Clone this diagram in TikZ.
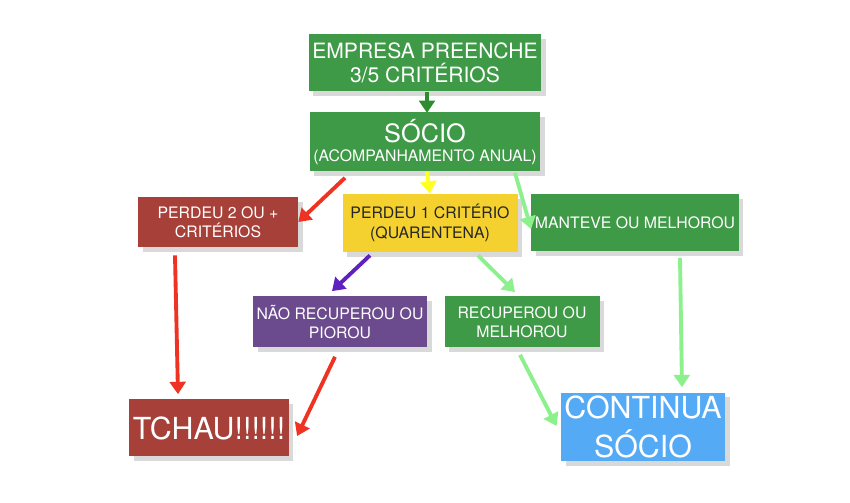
\documentclass[tikz,border=0pt]{standalone}
\usepackage{fontspec}
\setmainfont{TeX Gyre Heros}
\usetikzlibrary{arrows.meta,shadows,positioning}
\definecolor{verde}{HTML}{3F9A47}
\definecolor{vermelho}{HTML}{A8403A}
\definecolor{amarelo}{HTML}{F5D130}
\definecolor{roxo}{HTML}{6C4A8E}
\definecolor{azul}{HTML}{55AAF5}
\definecolor{setaverde}{HTML}{8CF08C}
\definecolor{setavermelha}{HTML}{EE3322}
\definecolor{setaroxa}{HTML}{6020C0}
\definecolor{setaamarela}{HTML}{FFFF20}
\definecolor{setaescura}{HTML}{2E8B2E}
\begin{document}
\begin{tikzpicture}[x=0.02cm,y=-0.02cm,
	caixa/.style={align=center,text=white,drop shadow={opacity=0.3},inner sep=2pt},
	seta/.style={line width=2.2pt,-{Triangle[length=7pt,width=9pt]}}]
	\useasboundingbox (0,0) rectangle (850,503);
	
	% Caixas
	\node[caixa,fill=verde,minimum width=230*0.02cm,minimum height=57*0.02cm,font=\large] (empresa) at (425,63) {EMPRESA PREENCHE\\3/5 CRITÉRIOS};
	\node[caixa,fill=verde,minimum width=230*0.02cm,minimum height=59*0.02cm] (socio) at (425,142) {{\Large SÓCIO}\\[-1pt]{\small (ACOMPANHAMENTO ANUAL)}};
	\node[caixa,fill=vermelho,minimum width=160*0.02cm,minimum height=50*0.02cm,font=\small] (perdeu2) at (218,222) {PERDEU 2 OU +\\CRITÉRIOS};
	\node[caixa,fill=amarelo,text=black!85,minimum width=175*0.02cm,minimum height=58*0.02cm,font=\small] (perdeu1) at (430,223) {PERDEU 1 CRITÉRIO\\(QUARENTENA)};
	\node[caixa,fill=verde,minimum width=174*0.02cm,minimum height=57*0.02cm,font=\small] (manteve) at (635,223) {MANTEVE OU MELHOROU};
	\node[caixa,fill=roxo,minimum width=160*0.02cm,minimum height=51*0.02cm,font=\small] (naorec) at (340,322) {NÃO RECUPEROU OU\\PIOROU};
	\node[caixa,fill=verde,minimum width=155*0.02cm,minimum height=51*0.02cm,font=\small] (recup) at (522,322) {RECUPEROU OU\\MELHOROU};
	\node[caixa,fill=vermelho,minimum width=142*0.02cm,minimum height=57*0.02cm,font=\LARGE] (tchau) at (209,428) {TCHAU!!!!!!};
	\node[caixa,fill=azul,minimum width=142*0.02cm,minimum height=60*0.02cm,font=\LARGE] (continua) at (643,427) {CONTINUA\\SÓCIO};
	
	% Setas
	\draw[seta,setaescura] (empresa.south) ++(2,0) -- ++(0,21);
	\draw[seta,setaamarela] (socio.south) ++(2,0) -- (perdeu1.north);
	\draw[seta,setavermelha] ([xshift=-80*0.02cm,yshift=-6*0.02cm]socio.south) -- (perdeu2.east);
	\draw[seta,setaverde] ([xshift=90*0.02cm,yshift=-1*0.02cm]socio.south) -- ([yshift=-6*0.02cm]manteve.west);
	\draw[seta,setavermelha] ([xshift=-43*0.02cm,yshift=-8*0.02cm]perdeu2.south) -- ([xshift=-31*0.02cm,yshift=5*0.02cm]tchau.north);
	\draw[seta,setaroxa] ([xshift=-60*0.02cm,yshift=-3*0.02cm]perdeu1.south) -- ([xshift=-8*0.02cm,yshift=5*0.02cm]naorec.north);
	\draw[seta,setaverde] ([xshift=48*0.02cm,yshift=-3*0.02cm]perdeu1.south) -- ([xshift=-7*0.02cm,yshift=4*0.02cm]recup.north);
	\draw[seta,setaverde] ([xshift=45*0.02cm,yshift=-6*0.02cm]manteve.south) -- ([xshift=39*0.02cm,yshift=5*0.02cm]continua.north);
	\draw[seta,setavermelha] ([xshift=-5*0.02cm,yshift=-9*0.02cm]naorec.south) -- ([xshift=8*0.02cm,yshift=-8*0.02cm]tchau.east);
	\draw[seta,setaverde] ([xshift=-2*0.02cm,yshift=-7*0.02cm]recup.south) -- ([xshift=-4*0.02cm,yshift=1*0.02cm]continua.west);
\end{tikzpicture}
\end{document}
